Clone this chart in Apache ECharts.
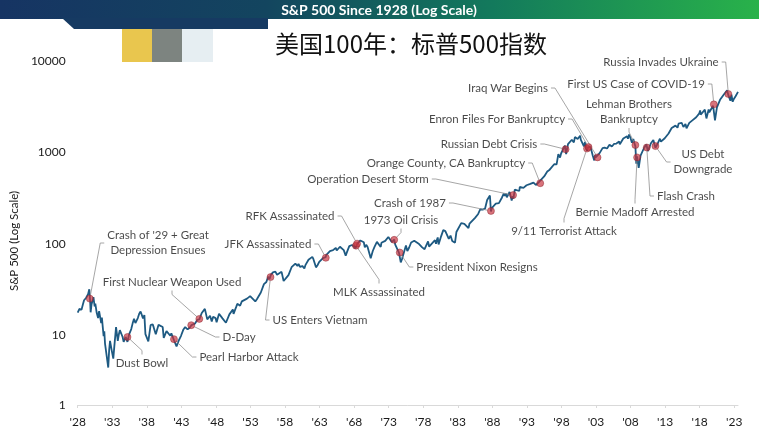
<!DOCTYPE html>
<html>
<head>
<meta charset="utf-8">
<script src="https://cdn.jsdelivr.net/npm/echarts@6/dist/echarts.min.js"></script>
<style>
html,body{margin:0;padding:0;background:#fff;}
#c{width:759px;height:439px;}
</style>
</head>
<body>
<div id="c"></div>
<script>
// ---- data (S&P 500 level) ----
const dates = [
1928.00,1928.25,1928.45,1928.55,1928.75,1928.92,1929.00,1929.20,1929.40,1929.50,1929.68,1929.80,1929.87,1930.00,1930.28,1930.45,1930.55,1930.75,1930.95,
1931.10,1931.40,1931.50,1931.75,1931.85,1931.95,1932.10,1932.42,1932.55,1932.68,1932.90,1933.15,1933.30,1933.55,1933.80,1933.95,
1934.10,1934.50,1934.65,1934.95,1935.20,1935.45,1935.75,1935.95,1936.15,1936.35,1936.70,1936.90,1937.10,1937.45,1937.65,1937.80,1937.95,
1938.22,1938.55,1938.85,1939.00,1939.30,1939.70,1939.95,1940.30,1940.45,1940.85,1941.00,1941.40,1941.55,1941.95,1942.30,1942.60,1942.95,
1943.30,1943.55,1943.90,1944.20,1944.45,1944.70,1944.95,1945.30,1945.60,1945.95,1946.40,1946.75,1946.95,1947.15,1947.40,1947.60,1947.95,
1948.10,1948.45,1948.95,1949.45,1949.95,1950.45,1950.55,1950.95,1951.10,1951.50,1951.75,1951.95,1952.50,1952.95,1953.00,1953.70,1953.95,
1954.50,1954.95,1955.30,1955.55,1955.75,1955.95,1956.25,1956.60,1956.85,1956.95,1957.50,1957.80,1957.95,1958.50,1958.95,1959.50,1959.80,1959.95,
1960.20,1960.50,1960.80,1960.95,1961.40,1961.60,1961.95,1962.10,1962.48,1962.70,1962.83,1962.95,1963.50,1963.88,1963.95,1964.50,1964.95,
1965.35,1965.48,1965.95,1966.10,1966.50,1966.78,1966.95,1967.30,1967.70,1967.95,1968.20,1968.45,1968.60,1968.90,1968.95,1969.40,1969.55,1969.75,1969.95,
1970.15,1970.40,1970.70,1970.95,1971.30,1971.85,1971.95,1972.50,1972.95,1973.05,1973.45,1973.60,1973.80,1973.95,1974.20,1974.50,1974.62,1974.75,1974.95,
1975.50,1975.70,1975.95,1976.25,1976.70,1976.95,1977.40,1977.85,1977.95,1978.20,1978.70,1978.85,1978.95,1979.70,1979.85,1979.95,
1980.10,1980.22,1980.60,1980.90,1980.95,1981.20,1981.70,1981.95,1982.20,1982.60,1982.80,1982.95,1983.50,1983.95,1984.55,1984.70,1984.95,
1985.50,1985.95,1986.25,1986.60,1986.70,1986.95,1987.25,1987.65,1987.80,1987.95,1988.50,1988.95,1989.40,1989.65,1989.80,1989.95,
1990.10,1990.50,1990.80,1990.95,1991.05,1991.25,1991.90,1991.97,1992.50,1992.95,1993.50,1993.95,1994.10,1994.30,1994.70,1994.95,
1995.50,1995.95,1996.30,1996.55,1996.95,1997.30,1997.55,1997.80,1997.95,1998.50,1998.68,1998.80,1998.95,1999.50,1999.80,1999.95,
2000.20,2000.35,2000.70,2000.80,2000.95,2001.25,2001.40,2001.70,2001.85,2001.95,2002.20,2002.55,2002.75,2002.90,2002.95,2003.20,2003.50,2003.95,
2004.25,2004.60,2004.95,2005.30,2005.60,2005.95,2006.35,2006.45,2006.95,2007.20,2007.50,2007.62,2007.78,2007.95,
2008.20,2008.40,2008.55,2008.70,2008.83,2008.95,2009.18,2009.45,2009.95,2010.30,2010.50,2010.95,2011.30,2011.60,2011.75,2011.95,
2012.25,2012.40,2012.95,2013.50,2013.95,2014.50,2014.80,2014.95,2015.40,2015.65,2015.95,2016.10,2016.50,2016.95,2017.50,2017.95,
2018.07,2018.15,2018.75,2018.98,2019.30,2019.40,2019.95,2020.13,2020.22,2020.50,2020.95,2021.50,2021.98,
2022.15,2022.45,2022.60,2022.78,2022.95,2023.20,2023.45,2023.55
];
const spx = [
17.6,19.3,19.7,18.9,21.5,24.0,24.9,25.4,24.8,28.0,31.7,23.5,17.7,21.5,25.9,20.5,22.0,17.5,15.3,
18.2,13.5,15.5,9.7,11.0,8.1,8.5,4.4,6.8,8.6,6.9,5.5,7.5,12.2,8.6,10.1,
11.3,9.5,8.4,9.5,8.4,10.2,11.6,13.4,15.0,13.5,15.3,17.1,18.1,15.2,16.5,10.2,10.5,
8.5,12.8,13.1,12.1,10.2,12.9,12.5,12.2,9.3,11.0,10.6,9.8,10.4,8.7,7.5,8.6,9.8,
11.5,12.2,11.5,12.0,12.8,12.6,13.3,14.6,14.8,17.4,19.3,14.8,15.3,16.2,14.0,15.8,15.3,
13.8,17.1,15.2,13.6,16.8,19.0,17.0,20.4,21.9,20.9,23.3,23.8,25.0,26.6,26.4,23.3,24.8,
29.2,36.0,38.0,43.5,40.8,45.5,48.5,49.4,45.6,46.7,49.1,39.0,40.0,45.2,55.2,60.5,56.9,59.9,
55.4,57.0,53.4,58.1,66.7,64.5,71.6,68.0,55.0,58.0,56.5,63.1,69.4,71.0,75.0,83.0,84.8,
90.0,84.1,92.4,93.3,85.0,74.0,80.3,94.0,96.7,96.5,89.0,99.6,98.0,108.4,103.9,103.5,91.0,97.0,92.1,
88.0,69.3,83.0,92.2,104.6,92.0,102.1,107.1,118.1,120.2,104.0,108.0,111.0,97.6,99.0,79.0,81.0,62.3,68.6,
95.2,83.0,90.2,103.0,107.5,107.5,99.0,91.0,95.1,87.0,106.0,93.0,96.1,109.0,99.9,107.9,
117.0,98.2,121.0,140.5,135.8,137.0,112.8,122.6,107.0,102.4,134.0,140.6,168.0,164.9,147.8,166.0,167.2,
191.8,211.3,238.0,236.0,231.3,242.2,300.0,336.8,224.8,247.1,273.5,277.7,320.5,353.7,333.0,353.4,
322.0,368.9,295.5,330.2,312.0,390.0,377.0,417.1,408.1,435.7,450.5,466.5,481.6,438.9,468.0,459.3,
544.8,615.9,645.5,626.7,740.7,737.7,954.3,876.9,970.4,1186.8,957.3,1002.4,1229.2,1372.7,1282.7,1469.3,
1498.6,1400.0,1520.8,1380.0,1320.3,1160.3,1300.0,1040.9,1139.5,1148.1,1150.0,911.6,815.3,936.3,879.8,848.2,974.5,1111.9,
1126.2,1101.7,1211.9,1156.9,1234.2,1248.3,1310.6,1223.7,1418.3,1406.8,1503.4,1406.7,1565.2,1468.4,
1273.4,1400.4,1267.4,1166.4,752.4,903.3,676.5,919.3,1115.1,1217.3,1030.7,1257.6,1363.6,1119.5,1131.4,1257.6,
1408.5,1310.3,1426.2,1606.3,1848.4,1960.2,1862.5,2058.9,2107.4,1893.2,2043.9,1829.1,2098.9,2238.8,2423.4,2673.6,
2872.9,2581.0,2930.8,2351.1,2945.8,2744.5,3230.8,3386.2,2237.4,3100.3,3756.1,4297.5,4766.2,
4225.5,3666.8,4280.2,3577.0,3839.5,4109.3,4450.4,4588.9
];
// events
const eventNames = [
"Crash of '29 + Great\nDepression Ensues","Dust Bowl","Pearl Harbor Attack","D-Day","First Nuclear Weapon Used",
"US Enters Vietnam","JFK Assassinated","MLK Assassinated","RFK Assassinated","1973 Oil Crisis","President Nixon Resigns",
"Crash of 1987","Operation Desert Storm","Orange County, CA Bankruptcy","Russian Debt Crisis","9/11 Terrorist Attack",
"Enron Files For Bankruptcy","Iraq War Begins","Lehman Brothers\nBankruptcy","Bernie Madoff Arrested","Flash Crash",
"US Debt\nDowngrade","First US Case of COVID-19","Russia Invades Ukraine"
];
const eventDates = [1929.75,1935.2,1941.93,1944.43,1945.6,1955.9,1963.9,1968.27,1968.43,1973.8,1974.6,
1987.8,1991.0,1994.93,1998.6,2001.7,2001.92,2003.22,2008.7,2008.95,2010.35,2011.6,2020.05,2022.15];
const eventValues = [25,9.5,9.0,12.8,15,43,70,95,100,110,80,
228,340,459,1080,1100,1140,880,1200,880,1130,1170,3350,4350];
// x-axis tick labels
const startYear = 1928;
const tickYears = [1928,1933,1938,1943,1948,1953,1958,1963,1968,1973,1978,1983,1988,1993,1998,2003,2008,2013,2018,2023];
const yTicks = ['1','10','100','1000','10000'];

// ---- layout (label centres, px) ----
const labelPos = [
[158,243],[142,363],[249,357],[239,337],[172,282],
[320,320],[268,244],[379,292],[290,216],[401,220],[477,267],
[410,203],[368,179],[446,163],[489,144],[564,231],
[497,119],[508,88],[629,112],[635,212],[686,196],
[703,162],[636,84],[661,62]
];

const FONT = 'Lato, "Liberation Sans", sans-serif';
const chart = echarts.init(document.getElementById('c'), null, {renderer:'canvas'});
const lineData = dates.map((d,i)=>[d-startYear, spx[i]]);
const evData = eventDates.map((d,i)=>({name:eventNames[i], value:[d-startYear, eventValues[i]]}));
const yMin = 1.71;

chart.setOption({
  animation:false,
  backgroundColor:'#ffffff',
  textStyle:{fontFamily:FONT},
  graphic:[
    {type:'rect', shape:{x:0,y:0,width:759,height:19}, style:{fill:new echarts.graphic.LinearGradient(0,0,1,0,[
      {offset:0,color:'#163463'},{offset:0.35,color:'#13455f'},{offset:0.65,color:'#137a5c'},{offset:1,color:'#29b24a'}])}, z:10},
    {type:'polygon', shape:{points:[[62,18],[268,18],[268,29],[74,29]]}, style:{fill:'#163a62'}, z:10},
    {type:'rect', shape:{x:122,y:29,width:30,height:33}, style:{fill:'#e9c64e'}, z:1},
    {type:'rect', shape:{x:152,y:29,width:30,height:33}, style:{fill:'#7d8480'}, z:1},
    {type:'rect', shape:{x:182,y:29,width:31,height:33}, style:{fill:'#e6eef2'}, z:1},
    {type:'text', x:379, y:10, style:{text:'S&P 500 Since 1928 (Log Scale)', fill:'#ffffff', font:'bold 14px '+FONT, textAlign:'center', textVerticalAlign:'middle'}, z:11},
    {type:'text', x:411, y:44, style:{text:'美国100年：标普500指数', fill:'#111111', font:'24px "Noto Sans CJK SC"', textAlign:'center', textVerticalAlign:'middle'}, z:11}
  ],
  grid:{left:77, right:21, top:61, bottom:34, containLabel:false},
  xAxis:{
    type:'value', min:0, max:95.55, interval:5,
    axisLine:{show:true, lineStyle:{color:'#d9d9d9', width:1}},
    axisTick:{show:true, length:3, lineStyle:{color:'#d9d9d9'}},
    splitLine:{show:false},
    axisLabel:{color:'#1a1a1a', fontSize:12, fontFamily:FONT, margin:11, showMaxLabel:false,
      formatter:v=>{const y=Math.round(v)+startYear; const k=tickYears.indexOf(y); return (Math.abs(v-Math.round(v))<1e-6 && k>=0)?"'"+String(y%100).padStart(2,'0'):'';}}
  },
  yAxis:{
    type:'log', logBase:10, min:yMin, max:10000,
    name:'S&P 500 (Log Scale)', nameLocation:'middle', nameGap:49, nameRotate:90,
    nameTextStyle:{color:'#1a1a1a', fontSize:11.5, fontFamily:FONT, padding:[0,16,0,0]},
    axisLine:{show:false}, axisTick:{show:false}, splitLine:{show:false},
    axisLabel:{color:'#1a1a1a', fontSize:12, fontFamily:FONT, margin:12,
      formatter:v=>{const e=Math.round(Math.log10(v)); return v<5?yTicks[0]:(yTicks[e]||String(Math.round(v)));}}
  },
  series:[
    {type:'line', data:lineData, showSymbol:false, symbol:'none', z:2,
     lineStyle:{color:'#1e5a82', width:1.8}},
    {type:'scatter', data:evData, symbol:'circle', symbolSize:7, z:3,
     itemStyle:{color:'rgba(200,50,62,0.85)', borderColor:'rgba(130,30,40,0.9)', borderWidth:0.6},
     label:{show:true, formatter:p=>p.name, color:'#1a1a1a', fontSize:11.5, fontFamily:FONT, lineHeight:15, padding:[1,3]},
     labelLayout:p=>({x:labelPos[p.dataIndex][0], y:labelPos[p.dataIndex][1], align:'center', verticalAlign:'middle'}),
     labelLine:{show:true, length2:4, lineStyle:{color:'#8f8f8f', width:0.8}}
    }
  ]
});
</script>
</body>
</html>
